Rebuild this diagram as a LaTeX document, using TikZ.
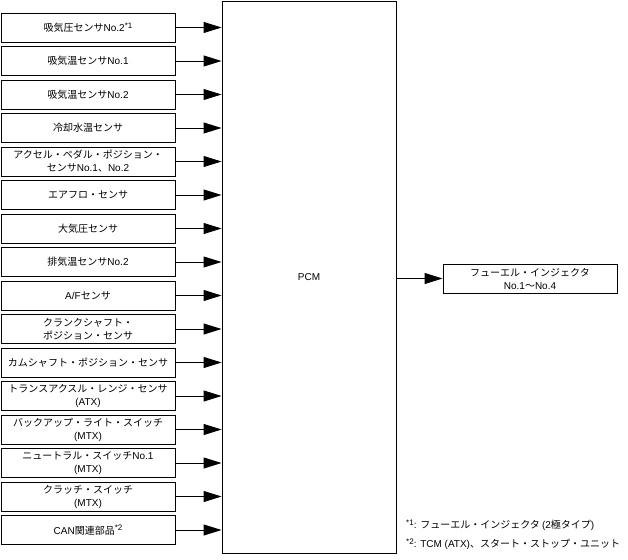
\documentclass[tikz,border=0pt]{standalone}
\usepackage{fontspec}
\setmainfont{Noto Sans CJK JP}
\newfontfamily\lt{Liberation Sans}
\usetikzlibrary{arrows.meta}
\newcommand{\sups}[1]{\raisebox{0.6ex}{\fontsize{8}{8}\selectfont\lt #1}}
\newcommand{\ltx}[1]{{\lt #1}}
\tikzset{
  inbox/.style={draw, line width=0.9pt, minimum width=174pt, minimum height=29pt, inner sep=0pt, align=center, font=\fontsize{10}{13}\selectfont},
  pcmbox/.style={draw, line width=0.9pt, minimum width=174pt, minimum height=552pt, inner sep=0pt, font=\fontsize{10}{13}\selectfont},
  conn/.style={line width=0.9pt, -{Triangle[length=18pt,width=11pt]}},
  note/.style={anchor=west, inner sep=0pt, font=\fontsize{10}{12}\selectfont}
}
\begin{document}
\begin{tikzpicture}[x=1pt,y=-1pt]
\useasboundingbox (0,0) rectangle (628,559);
\node[pcmbox] (pcm) at (309,277) {\ltx{PCM}};
\node[inbox] (b1) at (88,27.5) {吸気圧センサ\ltx{No.2}\sups{*1}};
\node[inbox] (b2) at (88,61) {吸気温センサ\ltx{No.1}};
\node[inbox] (b3) at (88,94.5) {吸気温センサ\ltx{No.2}};
\node[inbox] (b4) at (88,128) {冷却水温センサ};
\node[inbox] (b5) at (88,161.5) {アクセル・ペダル・ポジション・\\センサ\ltx{No.1}、\ltx{No.2}};
\node[inbox] (b6) at (88,195) {エアフロ・センサ};
\node[inbox] (b7) at (88,228.5) {大気圧センサ};
\node[inbox] (b8) at (88,262) {排気温センサ\ltx{No.2}};
\node[inbox] (b9) at (88,295.5) {\ltx{A/F}センサ};
\node[inbox] (b10) at (88,329) {クランクシャフト・\\ポジション・センサ};
\node[inbox] (b11) at (88,362.5) {カムシャフト・ポジション・センサ};
\node[inbox] (b12) at (88,396) {トランスアクスル・レンジ・センサ\\\ltx{(ATX)}};
\node[inbox] (b13) at (88,429.5) {バックアップ・ライト・スイッチ\\\ltx{(MTX)}};
\node[inbox] (b14) at (88,463) {ニュートラル・スイッチ\ltx{No.1}\\\ltx{(MTX)}};
\node[inbox] (b15) at (88,496.5) {クラッチ・スイッチ\\\ltx{(MTX)}};
\node[inbox] (b16) at (88,530) {\ltx{CAN}関連部品\sups{*2}};
\foreach \i in {1,...,16} {
  \draw[conn] (b\i.east) -- (b\i.east -| pcm.west);
}
\node[inbox] (fi) at (530,278.5) {フューエル・インジェクタ\\\ltx{No.1}〜\ltx{No.4}};
\draw[conn] (fi.west -| pcm.east) -- (fi.west);
\node[note] (n1) at (406,525) {\sups{*1}\ltx{: }フューエル・インジェクタ \ltx{(2}極タイプ\ltx{)}};
\node[note] (n2) at (406,544) {\sups{*2}\ltx{: TCM (ATX)}、スタート・ストップ・ユニット};
\end{tikzpicture}
\end{document}
